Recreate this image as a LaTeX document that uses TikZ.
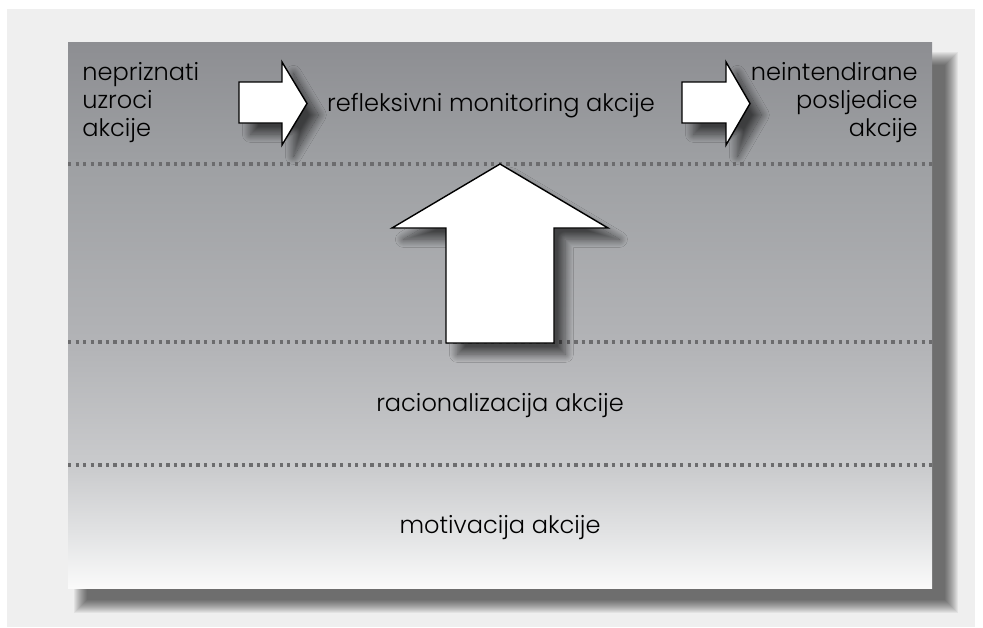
\documentclass[tikz,border=0pt]{standalone}
\usepackage{fontspec}
\setmainfont{Poppins}[UprightFont=* Light]
\usetikzlibrary{shadows.blur}

\definecolor{pagegray}{HTML}{EFEFEF}
\definecolor{dotgray}{HTML}{6C6C6E}
\definecolor{layerA}{HTML}{8D8E92}
\definecolor{layerB}{HTML}{9EA0A3}
\definecolor{layerC}{HTML}{B3B4B7}
\definecolor{layerD}{HTML}{CACBCD}
\definecolor{layerE}{HTML}{E2E3E4}
\definecolor{layerF}{HTML}{FAFAFA}
\pgfdeclareverticalshading{layers}{100bp}{color(0bp)=(layerF); color(25bp)=(layerF); color(30bp)=(layerE); color(36bp)=(layerD); color(47bp)=(layerC); color(64bp)=(layerB); color(75bp)=(layerA); color(100bp)=(layerA)}

\tikzset{
  layerline/.style={draw=dotgray,line width=1.9pt,dash pattern=on 1.9pt off 2.4pt},
  blockarrow/.style={draw=black,fill=white,line width=0.8pt,line join=miter,
    blur shadow={shadow xshift=6.5pt,shadow yshift=-6.5pt,shadow blur radius=4.5pt,shadow blur steps=24,shadow opacity=60}},
  layertext/.style={font=\fontsize{13.7}{16}\selectfont,inner sep=0pt},
  shadowstep/.style={fill=black,fill opacity=0.052}
}

\begin{document}
\begin{tikzpicture}[x=0.02cm,y=-0.02cm]
\useasboundingbox (0,0) rectangle (983,627);
\fill[pagegray] (7,9) rectangle (975,627);
% soft shadow of the layer box
\foreach \i in {0,...,13}
  \fill[shadowstep] (74+\i,52+\i) rectangle (958-\i,613-\i);
\shade[shading=layers] (68,42) rectangle (932,588);

\draw[layerline] (68,164) -- (932,164);
\draw[layerline] (68,342) -- (932,342);
\draw[layerline] (68,465) -- (932,465);

\node[layertext,align=left,anchor=north west] (causes) at (82,62) {nepriznati\\uzroci\\akcije};
\node[layertext,anchor=base] (monitor) at (491,111) {refleksivni monitoring akcije};
\node[layertext,align=right,anchor=north east] (effects) at (918,62) {neintendirane\\posljedice\\akcije};
\node[layertext,anchor=base] (rational) at (500,411) {racionalizacija akcije};
\node[layertext,anchor=base] (motive) at (500,533) {motivacija akcije};

\draw[blockarrow] (239,82) -- (282,82) -- (282,62) -- (307,103.5) -- (282,145) -- (282,123) -- (239,123) -- cycle;
\draw[blockarrow] (682,82) -- (726,82) -- (726,62) -- (750,103.5) -- (726,145) -- (726,123) -- (682,123) -- cycle;
\draw[blockarrow] (500,164) -- (608,228) -- (554,228) -- (554,343) -- (446,343) -- (446,228) -- (392,228) -- cycle;
\end{tikzpicture}
\end{document}
